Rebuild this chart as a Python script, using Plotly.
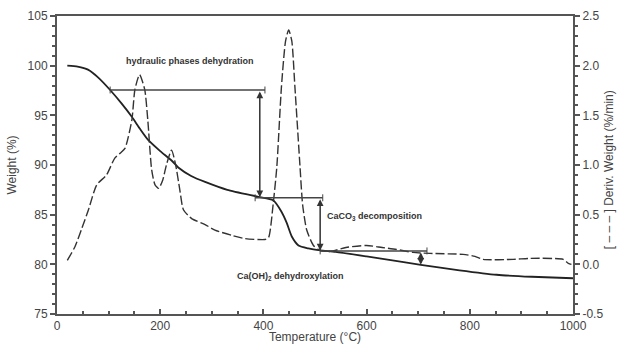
import plotly.graph_objects as go

# ---- data ----
temp_w = [20, 40, 60, 80, 103, 125, 145, 160, 177, 200, 222, 235, 260, 287, 330, 390,
          419, 435, 445, 455, 468, 487, 510, 540, 600, 650, 705, 780, 852, 920, 1000]
weight = [100.0, 99.9, 99.6, 98.8, 97.55, 96.2, 94.85, 93.7, 92.5, 91.4, 90.45, 89.75, 88.9,
          88.3, 87.5, 86.8, 86.45, 85.3, 84.2, 82.8, 81.9, 81.6, 81.4, 81.25, 80.8, 80.4,
          79.95, 79.4, 78.95, 78.75, 78.6]

temp_d = [20, 35, 48, 61, 77, 96, 112, 125, 132, 145, 151, 160, 170, 176, 183.5, 190, 197,
          205, 212, 222, 230, 238, 245, 261, 287, 306, 340, 364, 403, 410, 419, 426, 435,
          443, 449, 455, 461, 471, 476, 484, 497, 510, 530, 560, 600, 630, 658, 690, 723,
          787, 810, 826, 884, 917, 981, 991, 997]
deriv = [0.04, 0.18, 0.36, 0.55, 0.80, 0.90, 1.07, 1.13, 1.17, 1.45, 1.76, 1.91, 1.76, 1.45,
         0.95, 0.80, 0.765, 0.85, 1.0, 1.15, 1.0, 0.75, 0.55, 0.46, 0.40, 0.345, 0.29, 0.26,
         0.25, 0.27, 0.61, 0.98, 1.79, 2.25, 2.36, 2.25, 1.79, 0.98, 0.6, 0.345, 0.19, 0.14,
         0.13, 0.17, 0.19, 0.17, 0.15, 0.12, 0.11, 0.10, 0.08, 0.05, 0.05, 0.06, 0.05, 0.01, 0.0]

x_ticks = [0, 200, 400, 600, 800, 1000]
y_ticks = [75, 80, 85, 90, 95, 100, 105]
y2_ticks = [-0.5, 0.0, 0.5, 1.0, 1.5, 2.0, 2.5]
y2_ticktext = ["-0.5", "0.0", "0.5", "1.0", "1.5", "2.0", "2.5"]

# step annotation levels: (x start, x end, level) and arrows (x, top, bottom)
step_lines = [(103, 403, 97.55), (384, 515, 86.7), (510, 717, 81.35)]
step_arrows = [(393, 97.55, 86.75), (510, 86.7, 81.4), (705, 81.35, 79.95)]
labels = [
    ("hydraulic phases dehydration", 257, 100.5, "center"),
    ("CaCO<sub>3</sub> decomposition", 519, 84.8, "left"),
    ("Ca(OH)<sub>2</sub> dehydroxylation", 345, 78.75, "left"),
]

AX = "#555555"
TXT = "#444444"
FONT = "Liberation Sans, Arial, sans-serif"

fig = go.Figure()
fig.add_trace(go.Scatter(x=temp_w, y=weight, mode="lines",
                         line=dict(color="#222222", width=1.8, shape="spline", smoothing=0.6),
                         showlegend=False))
fig.add_trace(go.Scatter(x=temp_d, y=deriv, mode="lines", yaxis="y2",
                         line=dict(color="#333333", width=1.4, dash="9px,3px",
                                   shape="spline", smoothing=0.6),
                         showlegend=False))

shapes = []
for x0, x1, lvl in step_lines:
    shapes.append(dict(type="line", xref="x", yref="y", x0=x0, x1=x1, y0=lvl, y1=lvl,
                       line=dict(color="#444444", width=1.5)))
    for xe in (x0, x1):
        shapes.append(dict(type="line", xref="x", yref="y", x0=xe, x1=xe,
                           y0=lvl - 0.35, y1=lvl + 0.35,
                           line=dict(color="#444444", width=1)))

annotations = []
for xa, top, bot in step_arrows:
    annotations.append(dict(x=xa, y=bot, ax=xa, ay=top, xref="x", yref="y",
                            axref="x", ayref="y", text="", showarrow=True,
                            arrowhead=2, startarrowhead=2, arrowside="end+start",
                            arrowsize=0.9, startarrowsize=0.9, arrowwidth=1.5,
                            arrowcolor="#333333"))
for txt, xx, yy, anc in labels:
    annotations.append(dict(x=xx, y=yy, xref="x", yref="y", text="<b>" + txt + "</b>",
                            showarrow=False, xanchor=anc, yanchor="middle",
                            font=dict(family=FONT, size=9, color="#333333")))
annotations.append(dict(x=1.07, y=0.483, xref="paper", yref="paper",
                        xanchor="center", yanchor="middle",
                        text="[ \u2013 \u2013 \u2013 ] Deriv. Weight (%/min)",
                        textangle=-90, showarrow=False,
                        font=dict(family=FONT, size=12, color=TXT)))

fig.update_layout(
    width=620, height=344,
    margin=dict(l=57, r=47, t=16, b=30),
    paper_bgcolor="white", plot_bgcolor="white",
    font=dict(family=FONT, size=12, color=TXT),
    shapes=shapes, annotations=annotations,
    xaxis=dict(range=[0, 1000], tickvals=x_ticks, showgrid=False, zeroline=False,
               automargin=False,
               showline=True, linecolor=AX, linewidth=2, mirror=True,
               ticks="inside", ticklen=5, tickwidth=1.5, tickcolor=AX,
               minor=dict(dtick=50, ticks="inside", ticklen=3, tickcolor=AX),
               title=dict(text="Temperature (°C)", standoff=0,
                          font=dict(size=12, color=TXT))),
    yaxis=dict(range=[75, 105], tickvals=y_ticks, showgrid=False, zeroline=False,
               automargin=False,
               showline=True, linecolor=AX, linewidth=2,
               ticks="outside", ticklen=5, tickwidth=1.5, tickcolor=AX,
               minor=dict(dtick=1, ticks="outside", ticklen=3, tickcolor=AX),
               title=dict(text="Weight (%)", standoff=8,
                          font=dict(size=12, color=TXT))),
    yaxis2=dict(range=[-0.5, 2.5], overlaying="y", side="right",
                automargin=False,
                tickvals=y2_ticks, ticktext=y2_ticktext,
                showgrid=False, zeroline=False,
                showline=True, linecolor=AX, linewidth=2,
                ticks="outside", ticklen=5, tickwidth=1.5, tickcolor=AX,
                minor=dict(dtick=0.1, ticks="outside", ticklen=3, tickcolor=AX)),
)

fig.write_html("out.html", config={"displayModeBar": False},
               post_script="document.body.style.margin='0';")
